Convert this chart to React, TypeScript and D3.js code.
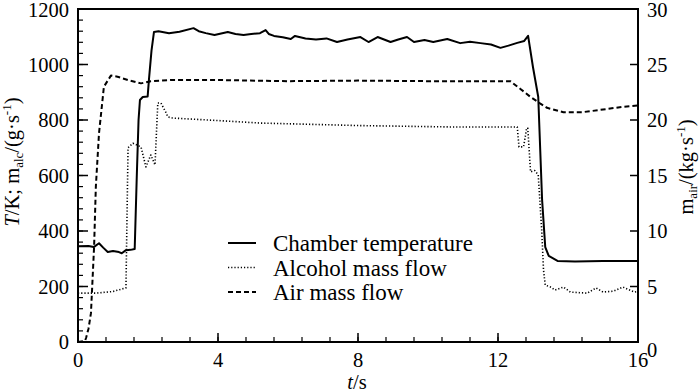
import React from "react";
import * as d3 from "d3";

// Chamber temperature (K) vs time (s)
const tempT = [0, 0.3, 0.45, 0.6, 0.72, 0.85, 1.0, 1.17, 1.25, 1.37, 1.5, 1.62, 1.68, 1.73, 1.77, 1.85, 1.99, 2.03, 2.1, 2.17, 2.3, 2.6, 2.9, 3.3, 3.45, 3.65, 3.9, 4.28, 4.5, 4.73, 4.95, 5.2, 5.36, 5.45, 5.6, 5.85, 6.08, 6.2, 6.5, 6.8, 7.1, 7.4, 7.7, 8.07, 8.3, 8.56, 8.93, 9.15, 9.4, 9.6, 9.9, 10.15, 10.55, 10.92, 11.2, 11.5, 11.8, 12.07, 12.3, 12.55, 12.75, 12.86, 13.0, 13.15, 13.26, 13.35, 13.45, 13.7, 14.2, 15.0, 16.0];
const tempV = [345, 346, 342, 356, 340, 324, 328, 324, 320, 331, 332, 335, 600, 800, 872, 883, 885, 950, 1050, 1117, 1120, 1113, 1118, 1131, 1120, 1113, 1106, 1117, 1110, 1106, 1110, 1113, 1124, 1110, 1103, 1098, 1092, 1103, 1094, 1090, 1094, 1081, 1090, 1099, 1081, 1099, 1081, 1090, 1099, 1081, 1088, 1081, 1092, 1077, 1082, 1077, 1072, 1060, 1068, 1078, 1085, 1103, 990, 883, 512, 342, 310, 292, 290, 292, 292];

// Alcohol mass flow (g/s) vs time (s)
const alcT = [0, 0.5, 1.0, 1.37, 1.4, 1.43, 1.57, 1.8, 1.94, 2.08, 2.2, 2.28, 2.37, 2.5, 2.57, 2.7, 4.0, 5.2, 8.0, 10.6, 12.55, 12.6, 12.73, 12.82, 12.85, 12.93, 13.05, 13.15, 13.25, 13.3, 13.35, 13.5, 13.63, 13.87, 14.07, 14.55, 14.8, 15.0, 15.3, 15.57, 15.9, 16.0];
const alcV = [176, 176, 182, 195, 450, 700, 716, 703, 631, 674, 638, 861, 861, 830, 811, 807, 798, 789, 780, 775, 775, 703, 703, 771, 771, 613, 618, 602, 400, 260, 205, 198, 187, 198, 180, 176, 195, 180, 183, 198, 180, 182];

// Air mass flow (kg/s) vs time (s)
const airT = [0, 0.2, 0.23, 0.3, 0.37, 0.46, 0.51, 0.6, 0.74, 0.94, 1.13, 1.43, 1.8, 2.08, 2.65, 4.0, 6.0, 8.0, 10.0, 12.0, 12.35, 12.64, 12.92, 13.2, 13.4, 13.87, 14.4, 14.9, 15.6, 16.0];
const airV = [0, 0.1, 0.36, 1.2, 2.6, 8.6, 14.0, 18.8, 23.0, 24.0, 23.9, 23.6, 23.3, 23.5, 23.6, 23.6, 23.5, 23.55, 23.5, 23.5, 23.5, 22.8, 22.1, 21.5, 21.1, 20.7, 20.7, 20.9, 21.2, 21.3];

const xTicks = [0, 4, 8, 12, 16];
const yLeftTicks = [0, 200, 400, 600, 800, 1000, 1200];
const yRightTicks = [0, 5, 10, 15, 20, 25, 30];
const legendLabels = ["Chamber temperature", "Alcohol mass flow", "Air mass flow"];

const W = 700, H = 392;
const L = 78, R = 638, T = 9, B = 342;
const FONT = "'Liberation Serif', 'Times New Roman', serif";
const TICK_FS = 20.5;
const TITLE_FS = 20.5;
const LEG_FS = 23;

export default function App() {
  const x = d3.scaleLinear().domain([0, 16]).range([L, R]);
  const yL = d3.scaleLinear().domain([0, 1200]).range([B, T]);
  const yR = d3.scaleLinear().domain([0, 30]).range([B, T]);

  const mk = (ts: number[], vs: number[], ys: d3.ScaleLinear<number, number>) =>
    d3.line<number>().x((_, i) => x(ts[i])).y((v) => ys(v)).curve(d3.curveLinear)(vs) || "";

  const tempPath = mk(tempT, tempV, yL);
  const alcPath = mk(alcT, alcV, yL);
  const airPath = mk(airT, airV, yR);

  const xMinor = d3.range(0, 16.001, 0.8);
  const yMinor = d3.range(0, 1200.1, 40);

  const styles = [
    { w: 2, dash: "none" },
    { w: 1.6, dash: "1.2,2" },
    { w: 2, dash: "5,3" },
  ];
  const paths = [tempPath, alcPath, airPath];

  return (
    <svg width={W} height={H} style={{ position: "absolute", left: 0, top: 0, background: "#fff" }} fontFamily={FONT}>
      <rect x={0} y={0} width={W} height={H} fill="#fff" />
      <defs>
        <clipPath id="plot">
          <rect x={L} y={T - 2} width={R - L} height={B - T + 4} />
        </clipPath>
      </defs>
      {xMinor.map((t, i) => (
        <line key={"xm" + i} x1={x(t)} x2={x(t)} y1={B} y2={B - 5} stroke="#000" strokeWidth={1.2} />
      ))}
      {xTicks.map((t) => (
        <line key={"xM" + t} x1={x(t)} x2={x(t)} y1={B} y2={B - 9} stroke="#000" strokeWidth={1.5} />
      ))}
      {yMinor.map((v, i) => (
        <line key={"ym" + i} x1={L} x2={L + 5} y1={yL(v)} y2={yL(v)} stroke="#000" strokeWidth={1.2} />
      ))}
      {yLeftTicks.map((v) => (
        <line key={"yM" + v} x1={L} x2={L + 10} y1={yL(v)} y2={yL(v)} stroke="#000" strokeWidth={1.5} />
      ))}
      {yRightTicks.map((v) => (
        <line key={"yR" + v} x1={R} x2={R - 8} y1={yR(v)} y2={yR(v)} stroke="#000" strokeWidth={1.5} />
      ))}
      <g clipPath="url(#plot)" fill="none" stroke="#000" strokeLinejoin="round">
        {paths.map((p, i) => (
          <path key={i} d={p} strokeWidth={styles[i].w} strokeDasharray={styles[i].dash} />
        ))}
      </g>
      <rect x={L} y={T} width={R - L} height={B - T} fill="none" stroke="#000" strokeWidth={2} />
      {xTicks.map((t) => (
        <text key={"xl" + t} x={x(t)} y={B + 25} textAnchor="middle" fontSize={TICK_FS}>{t}</text>
      ))}
      {yLeftTicks.map((v) => (
        <text key={"yl" + v} x={L - 9} y={yL(v) + 7 + (v === 1200 ? 1 : 0)} textAnchor="end" fontSize={TICK_FS}>{v}</text>
      ))}
      {yRightTicks.map((v) => (
        <text key={"yr" + v} x={R + 9} y={yR(v) + 7 + (v === 0 ? 8 : v === 30 ? 1 : 0)} textAnchor="start" fontSize={TICK_FS}>{v}</text>
      ))}
      <text x={357} y={389} textAnchor="middle" fontSize={TITLE_FS}>
        <tspan fontStyle="italic">t</tspan>/s
      </text>
      <text transform={`translate(19, 162) rotate(-90)`} textAnchor="middle" fontSize={TITLE_FS}>
        <tspan fontStyle="italic">T</tspan>/K; m<tspan fontSize={13} dy={4}>alc</tspan><tspan dy={-4}>/(g·s</tspan><tspan fontSize={13} dy={-8}>-1</tspan><tspan dy={8}>)</tspan>
      </text>
      <text transform={`translate(693, 167) rotate(-90)`} textAnchor="middle" fontSize={TITLE_FS}>
        m<tspan fontSize={13} dy={4}>air</tspan><tspan dy={-4}>/(kg·s</tspan><tspan fontSize={13} dy={-8}>-1</tspan><tspan dy={8}>)</tspan>
      </text>
      {legendLabels.map((lab, i) => {
        const base = 251 + i * 24.5;
        const cy = base - 8;
        return (
          <g key={lab}>
            <line x1={228} x2={256} y1={cy} y2={cy} stroke="#000" strokeWidth={styles[i].w} strokeDasharray={styles[i].dash} />
            <text x={273} y={base} fontSize={LEG_FS}>{lab}</text>
          </g>
        );
      })}
    </svg>
  );
}
